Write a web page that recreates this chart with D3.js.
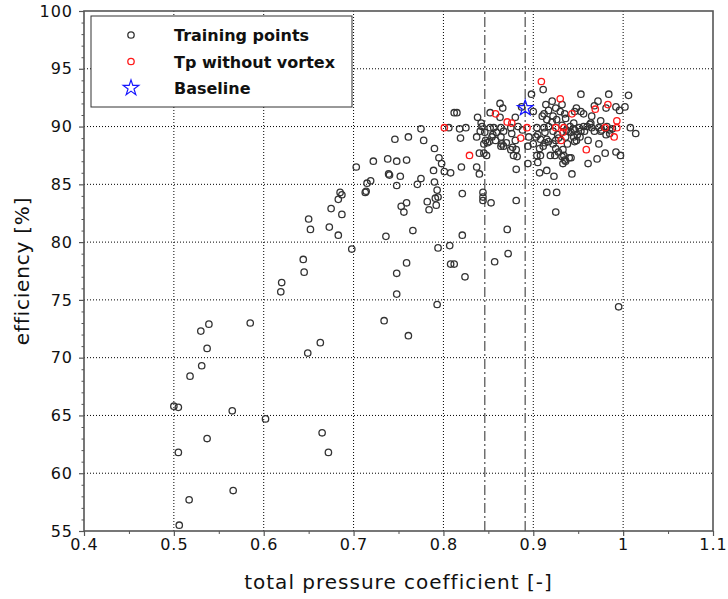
<!DOCTYPE html>
<html>
<head>
<meta charset="utf-8">
<script src="https://cdn.jsdelivr.net/npm/d3@7"></script>
<style>
  body { margin: 0; background: #fff; }
  svg { font-family: 'DejaVu Sans', sans-serif; display: block; }
</style>
</head>
<body>
<svg></svg>
<script>
// training points [total pressure coefficient, efficiency %]
const TRAIN_PTS = [
  // low efficiency tail
  [0.500,65.8],[0.505,65.7],[0.530,72.3],[0.539,72.9],[0.585,73.0],[0.537,70.8],[0.531,69.3],[0.518,68.4],
  [0.565,65.4],[0.602,64.7],[0.537,63.0],[0.505,61.8],[0.566,58.5],[0.517,57.7],[0.506,55.5],[0.649,70.4],
  [0.663,71.3],[0.665,63.5],[0.672,61.8],[0.734,73.2],[0.761,71.9],[0.793,74.6],[0.995,74.4],
  // middle
  [0.703,86.5],[0.713,84.3],[0.685,84.3],[0.687,84.1],[0.683,83.7],[0.675,82.9],[0.687,82.4],[0.650,82.0],
  [0.652,81.1],[0.673,81.3],[0.683,80.6],[0.698,79.4],[0.644,78.5],[0.645,77.4],[0.620,76.5],[0.619,75.7],
  [0.746,88.9],[0.761,89.1],[0.722,87.0],[0.738,87.2],[0.748,87.0],[0.759,87.1],[0.739,85.9],[0.740,85.8],
  [0.752,85.7],[0.719,85.3],[0.715,85.1],[0.748,84.9],[0.714,84.4],[0.759,83.4],[0.753,83.1],[0.756,82.6],
  [0.736,80.5],[0.759,78.2],[0.748,77.3],[0.748,75.5],[0.775,89.8],[0.778,88.8],[0.790,88.1],[0.795,87.3],
  [0.798,86.8],[0.801,86.1],[0.789,86.2],[0.808,86.0],[0.775,85.5],[0.771,85.0],[0.790,85.2],[0.793,84.5],
  [0.794,83.9],[0.791,83.8],[0.792,83.2],[0.782,83.5],[0.784,82.8],[0.766,81.0],[0.794,79.5],[0.807,79.7],
  [0.821,80.6],[0.808,78.1],[0.812,78.1],[0.824,77.0],[0.857,78.3],[0.872,79.0],[0.871,81.1],[0.821,84.2],
  [0.820,86.5],[0.819,89.0],[0.806,89.9],[0.818,89.8],[0.825,89.9],[0.812,91.2],[0.815,91.2],
  [0.837,86.5],[0.840,85.9],[0.837,89.1],[0.838,90.8],[0.842,90.3],[0.843,90.0],[0.840,87.7],[0.845,87.7],
  [0.848,87.5],[0.845,88.5],[0.844,84.3],[0.844,83.9],[0.844,83.6],[0.853,83.4],[0.881,83.6],[0.881,86.3],
  [0.894,86.8],[0.905,86.9],[0.904,87.5],[0.907,86.0],[0.915,86.2],[0.923,85.7],[0.915,84.3],[0.926,84.3],
  [0.925,82.6],[0.943,85.9],[0.933,86.8],[0.940,87.3],[0.934,87.5],[0.924,87.5],[0.919,87.5],[0.935,87.1],
  // dense cluster
  [0.911,93.2],[0.898,92.8],[0.953,92.8],[0.984,92.8],[1.006,92.7],[0.921,92.2],[0.863,92.0],[0.866,91.6],
  [0.914,91.9],[0.932,91.9],[0.972,92.2],[1.002,91.7],[0.992,91.7],[0.996,91.4],[0.968,91.8],[0.981,91.6],
  [0.948,91.6],[0.953,91.3],[0.917,91.4],[0.930,91.3],[0.912,91.1],[0.900,91.3],[0.887,91.7],[0.863,90.8],
  [0.880,90.8],[0.922,90.9],[0.936,90.7],[0.926,90.6],[0.915,90.6],[0.910,90.9],[0.965,90.9],[0.975,90.5],
  [0.964,90.3],[0.945,90.3],[1.008,89.9],[1.014,89.4],[0.973,89.9],[0.965,89.9],[0.960,90.0],[0.957,89.6],
  [0.968,89.6],[0.988,89.8],[0.904,89.9],[0.912,89.9],[0.917,90.0],[0.856,89.9],[0.864,89.9],[0.875,89.9],
  [0.883,90.0],[0.859,89.5],[0.867,89.6],[0.854,89.1],[0.864,89.1],[0.851,88.7],[0.865,88.5],[0.870,88.6],
  [0.867,88.3],[0.877,88.2],[0.880,88.8],[0.895,89.1],[0.903,89.1],[0.894,88.3],[0.900,88.5],[0.913,88.6],
  [0.917,88.7],[0.925,88.8],[0.925,88.1],[0.936,89.1],[0.942,89.5],[0.949,89.3],[0.952,89.1],[0.938,88.5],
  [0.946,88.7],[0.973,88.5],[0.961,88.8],[0.980,87.7],[0.992,87.8],[0.997,87.5],[0.971,87.2],[0.961,86.8],
  [0.942,87.3],[0.936,87.0],[0.932,87.4],[0.908,87.5],[0.882,87.4],[0.878,87.5],[0.864,88.3],[0.849,88.6],
  [0.855,89.3],[0.858,88.8],[0.852,89.9],[0.907,88.1],[0.911,88.3],[0.905,89.3],[0.922,89.6],[0.927,89.3],
  [0.945,89.8],[0.953,89.6],[0.951,89.9],[0.975,89.6],[0.981,89.3],[0.985,89.4],[0.852,91.2],[0.846,89.5],
  [0.875,88.0],[0.881,88.0],[0.847,88.8],[0.888,89.7],[0.908,88.9],[0.925,91.6],[0.963,90.2],[0.939,89.6],
  [0.921,90.4],[0.913,89.5],[0.915,88.9],[0.922,88.5],[0.928,89.0],[0.945,89.1],[0.948,88.8],[0.928,87.8],
  [0.933,88.0],[0.876,89.4],[0.841,89.6],[0.956,91.1],[0.946,91.3],[0.935,91.1],[0.932,90.1],[0.941,90.0],
  [0.937,89.7],[0.946,89.7],[0.956,90.0],[0.976,89.7],[0.982,90.0],[0.985,89.7]
];

// training points without vortex (red)
const NOVORTEX_PTS = [
  [0.909,93.9],[0.930,92.4],[0.983,91.9],[0.969,91.5],[0.943,91.1],[0.858,91.1],[0.871,90.4],
  [0.876,90.3],[0.993,90.5],[0.980,89.9],[0.993,89.9],[0.990,89.1],[0.925,89.9],[0.934,89.9],
  [0.933,89.5],[0.931,88.8],[0.893,89.9],[0.886,89.0],[0.959,88.0],[0.801,89.9],[0.829,87.5]
];

const BASELINE = [[0.891, 91.6]];
const LIMIT_LINES = [0.846, 0.891]; // dash-dot verticals

const X_DOMAIN = [0.4, 1.1];
const Y_DOMAIN = [55, 100];
const X_TICKS = [0.4, 0.5, 0.6, 0.7, 0.8, 0.9, 1.0, 1.1];
const Y_TICKS = [55, 60, 65, 70, 75, 80, 85, 90, 95, 100];
const LEGEND_LABELS = ['Training points', 'Tp without vortex', 'Baseline'];

const WIDTH = 728;
const HEIGHT = 599;
const MARGIN = {top: 11, right: 15, bottom: 68, left: 84};

const x = d3.scaleLinear().domain(X_DOMAIN).range([MARGIN.left, WIDTH - MARGIN.right]);
const y = d3.scaleLinear().domain(Y_DOMAIN).range([HEIGHT - MARGIN.bottom, MARGIN.top]);

const svg = d3.select('svg').attr('width', WIDTH).attr('height', HEIGHT);

const x0 = x.range()[0], x1 = x.range()[1];
const y0 = y.range()[0], y1 = y.range()[1];

// dotted grid at the inner major ticks
svg.append('g')
  .selectAll('line')
  .data(X_TICKS.slice(1, -1))
  .join('line')
  .attr('x1', d => x(d)).attr('x2', d => x(d))
  .attr('y1', y0).attr('y2', y1)
  .attr('stroke', '#000').attr('stroke-width', 1).attr('stroke-dasharray', '1,2');

svg.append('g')
  .selectAll('line')
  .data(Y_TICKS.slice(1, -1))
  .join('line')
  .attr('x1', x0).attr('x2', x1)
  .attr('y1', d => y(d)).attr('y2', d => y(d))
  .attr('stroke', '#000').attr('stroke-width', 1).attr('stroke-dasharray', '1,2');

// limit lines
svg.append('g')
  .selectAll('line')
  .data(LIMIT_LINES)
  .join('line')
  .attr('x1', d => x(d)).attr('x2', d => x(d))
  .attr('y1', y0).attr('y2', y1)
  .attr('stroke', '#666').attr('stroke-width', 1.4).attr('stroke-dasharray', '10,3,2,3');

// minor ticks (no labels)
const xMinor = d3.range(0.45, 1.1, 0.1);
const yMinor = d3.range(56, 100, 1).filter(v => v % 5 !== 0);

svg.append('g')
  .attr('transform', `translate(0,${y0})`)
  .call(d3.axisBottom(x).tickValues(xMinor).tickSize(3).tickFormat(''))
  .call(g => g.select('.domain').remove())
  .selectAll('line').attr('stroke', '#555');

svg.append('g')
  .attr('transform', `translate(${x0},0)`)
  .call(d3.axisLeft(y).tickValues(yMinor).tickSize(2.5).tickFormat(''))
  .call(g => g.select('.domain').remove())
  .selectAll('line').attr('stroke', '#555');

// major axes
const xAxis = svg.append('g')
  .attr('transform', `translate(0,${y0})`)
  .call(d3.axisBottom(x).tickValues(X_TICKS).tickSize(5).tickPadding(3)
    .tickFormat(d => String(+d.toFixed(1))))
  .call(g => g.select('.domain').remove());

const yAxis = svg.append('g')
  .attr('transform', `translate(${x0},0)`)
  .call(d3.axisLeft(y).tickValues(Y_TICKS).tickSize(5).tickPadding(6))
  .call(g => g.select('.domain').remove());

[xAxis, yAxis].forEach(a => {
  a.selectAll('line').attr('stroke', '#555').attr('stroke-width', 1.2);
  a.selectAll('text')
    .attr('font-family', 'DejaVu Sans, sans-serif')
    .attr('font-size', 16)
    .attr('letter-spacing', 1)
    .attr('fill', '#111');
});

// frame
svg.append('rect')
  .attr('x', x0).attr('y', y1)
  .attr('width', x1 - x0).attr('height', y0 - y1)
  .attr('fill', 'none').attr('stroke', '#555').attr('stroke-width', 1.6);

// scatter
svg.append('g')
  .selectAll('circle')
  .data(TRAIN_PTS)
  .join('circle')
  .attr('cx', d => x(d[0]))
  .attr('cy', d => y(d[1]))
  .attr('r', 3.2)
  .attr('fill', 'none')
  .attr('stroke', '#333')
  .attr('stroke-width', 1.3);

svg.append('g')
  .selectAll('circle')
  .data(NOVORTEX_PTS)
  .join('circle')
  .attr('cx', d => x(d[0]))
  .attr('cy', d => y(d[1]))
  .attr('r', 3.2)
  .attr('fill', 'none')
  .attr('stroke', '#ff1a1a')
  .attr('stroke-width', 1.3);

const star = d3.symbol().type(d3.symbolStar).size(75);

svg.append('g')
  .selectAll('path')
  .data(BASELINE)
  .join('path')
  .attr('d', star)
  .attr('transform', d => `translate(${x(d[0])},${y(d[1])})`)
  .attr('fill', 'none')
  .attr('stroke', '#1515ff')
  .attr('stroke-width', 1.2);

// axis titles
svg.append('text')
  .attr('x', (x0 + x1) / 2)
  .attr('y', 589)
  .attr('text-anchor', 'middle')
  .attr('font-size', 20)
  .attr('letter-spacing', 1)
  .attr('fill', '#111')
  .text('total pressure coefficient [-]');

svg.append('text')
  .attr('transform', `translate(29,${(y0 + y1) / 2}) rotate(-90)`)
  .attr('text-anchor', 'middle')
  .attr('font-size', 20)
  .attr('letter-spacing', 0.8)
  .attr('fill', '#111')
  .text('efficiency [%]');

// legend
const legend = svg.append('g').attr('transform', 'translate(91,16)');
legend.append('rect')
  .attr('width', 261).attr('height', 91)
  .attr('fill', '#fff').attr('stroke', '#333').attr('stroke-width', 1);

const rowY = i => 19 + i * 26.5;
const legendMarks = [
  g => g.append('circle').attr('r', 3.2).attr('fill', 'none').attr('stroke', '#333').attr('stroke-width', 1.3),
  g => g.append('circle').attr('r', 3.2).attr('fill', 'none').attr('stroke', '#ff1a1a').attr('stroke-width', 1.3),
  g => g.append('path').attr('d', star).attr('fill', 'none').attr('stroke', '#1515ff').attr('stroke-width', 1.2)
];

LEGEND_LABELS.forEach((label, i) => {
  const row = legend.append('g').attr('transform', `translate(0,${rowY(i)})`);
  legendMarks[i](row.append('g').attr('transform', 'translate(40,0)'));
  row.append('text')
    .attr('x', 83)
    .attr('y', 6)
    .attr('font-size', 16)
    .attr('font-weight', 'bold')
    .attr('fill', '#111')
    .text(label);
});
</script>
</body>
</html>
